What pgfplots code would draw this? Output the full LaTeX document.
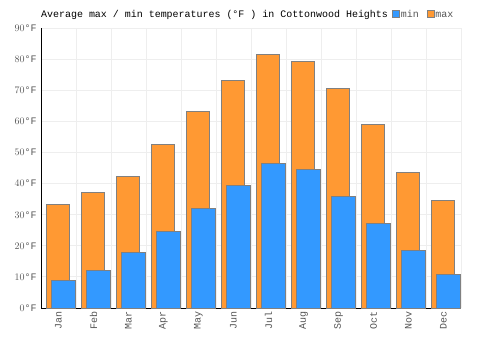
\documentclass[border=0pt]{standalone}
\usepackage{pgfplots}
\pgfplotsset{compat=1.18}
\usepackage{fontspec}
\setmainfont{Liberation Mono}
\setmonofont{Liberation Mono}
\definecolor{cmin}{HTML}{3399FF}
\definecolor{cmax}{HTML}{FF9933}
\definecolor{bord}{HTML}{808080}
\definecolor{tcol}{HTML}{555555}
\definecolor{gridc}{HTML}{EEEEEE}
\pgfplotstableread{
x max min
0 33.3 9.0
1 37.2 11.9
2 42.3 17.9
3 52.4 24.7
4 63.3 32.0
5 73.2 39.5
6 81.5 46.3
7 79.2 44.6
8 70.6 35.9
9 59.1 27.3
10 43.7 18.6
11 34.6 10.7
}\temps
\begin{document}
\begin{tikzpicture}
\useasboundingbox (-41bp,-42bp) rectangle (459bp,308bp);
\begin{axis}[
  at={(0,0)}, anchor=south west,
  scale only axis, width=420bp, height=280bp,
  xmin=-0.5, xmax=11.5, ymin=0, ymax=90,
  axis x line*=bottom, axis y line*=left,
  axis line style={black, line width=1pt, -},
  xtick={0,...,11},
  xticklabels={Jan,Feb,Mar,Apr,May,Jun,Jul,Aug,Sep,Oct,Nov,Dec},
  minor xtick={-0.5,0.5,...,11.5},
  ytick={0,10,...,90},
  yticklabel={\pgfmathprintnumber{\tick}°F},
  major tick length=0pt, minor tick length=0pt,
  xminorgrids=true, ymajorgrids=true,
  grid style={gridc, line width=0.8pt},
  minor grid style={gridc, line width=0.8pt},
  x tick label style={rotate=90, anchor=east, font=\fontsize{10}{12}\selectfont, text=tcol},
  y tick label style={font=\fontsize{10}{12}\selectfont, text=tcol, xshift=-1bp},
  legend columns=2,
  legend style={draw=none, fill=none, at={(rel axis cs:0.836,1.05)}, anchor=west,
    font=\fontsize{10}{12}\selectfont, text=tcol, inner sep=0pt,
    nodes={inner sep=1pt, text height=1.5ex, text depth=0.3ex},
    /tikz/every even column/.append style={column sep=7bp}},
  legend image code/.code={\draw[#1, line width=0.6pt] (0bp,-3.5bp) rectangle (7bp,3.5bp);},
  clip=false,
]
\addlegendimage{fill=cmin, draw=bord}
\addlegendentry{min}
\addlegendimage{fill=cmax, draw=bord}
\addlegendentry{max}
\addplot[ybar, bar width=23.4bp, bar shift=-0.5bp, fill=cmax, draw=bord, line width=1pt, forget plot] table[x=x, y=max] {\temps};
\addplot[ybar, bar width=24.4bp, bar shift=5bp, fill=cmin, draw=bord, line width=1pt, forget plot] table[x=x, y=min] {\temps};
\node[anchor=base west, font=\fontsize{10}{12}\selectfont, inner sep=0pt] at (rel axis cs:0,1) [yshift=11bp] {Average max / min temperatures (°F ) in Cottonwood Heights};
\end{axis}
\end{tikzpicture}
\end{document}
